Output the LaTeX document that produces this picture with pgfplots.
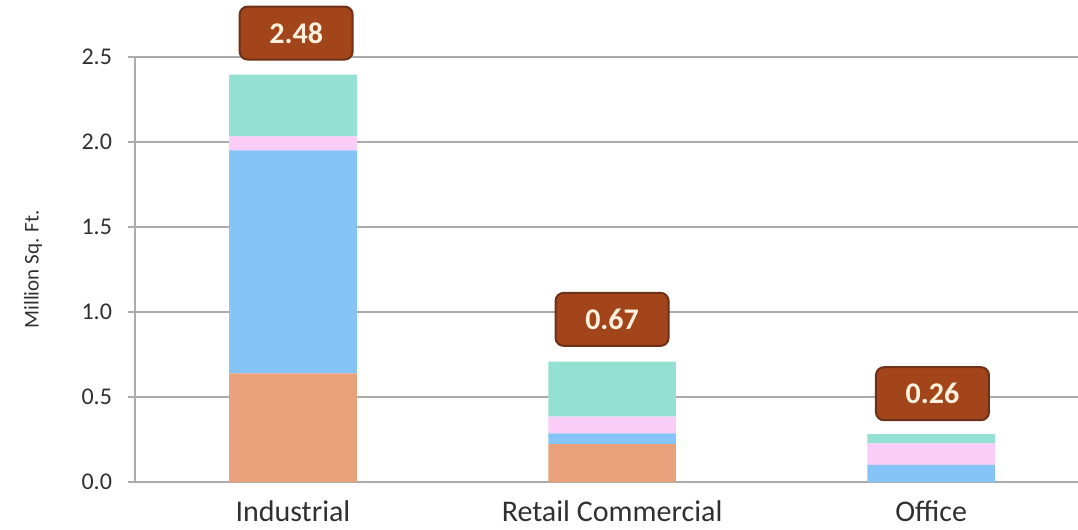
\documentclass[border=0pt]{standalone}
\usepackage{pgfplots}
\pgfplotsset{compat=1.18}
\usepackage{fontspec}
\setmainfont{Carlito}
\definecolor{cOr}{HTML}{E9A17C}
\definecolor{cBl}{HTML}{86C4F8}
\definecolor{cPk}{HTML}{F9CDF7}
\definecolor{cTe}{HTML}{94E0D2}
\definecolor{gridgray}{HTML}{ABABAB}
\definecolor{boxfill}{HTML}{A2451B}
\definecolor{boxdraw}{HTML}{6E3016}
\definecolor{boxtext}{HTML}{FFF1DD}
\definecolor{txt}{HTML}{303030}
\begin{document}
\begin{tikzpicture}
\useasboundingbox (-67.5bp,-24bp) rectangle (471.5bp,241bp);
\begin{axis}[
  scale only axis, width=471.5bp, height=212.65bp,
  xmin=-0.495, xmax=2.46, ymin=0, ymax=2.5,
  ybar stacked, bar width=0.4,
  clip=false,
  axis lines*=left,
  axis line style={draw=gridgray, line width=1bp},
  ymajorgrids, grid style={draw=gridgray, line width=1bp},
  xtick={0,1,2}, xticklabels={Industrial, Retail Commercial, Office},
  x tick style={draw=none},
  ytick={0,0.5,1,1.5,2,2.5},
  y tick style={draw=gridgray, line width=1bp},
  tick align=outside, major tick length=3.5bp,
  yticklabel style={/pgf/number format/fixed, /pgf/number format/fixed zerofill, /pgf/number format/precision=1, /pgf/number format/assume math mode=true},
  yticklabel style={font=\fontsize{12bp}{14bp}\selectfont, text=txt, xshift=-4.5bp},
  xticklabel style={font=\fontsize{15bp}{18bp}\selectfont, text=txt, yshift=-2.5bp},
  ylabel={Million Sq. Ft.},
  every axis y label/.style={at={(axis description cs:-0.108,0.5)}, rotate=90, anchor=center, font=\fontsize{10.5bp}{12bp}\selectfont, text=txt},
]
\addplot[fill=cOr, draw=none] coordinates {(0,0.639) (1,0.222) (2,0)};
\addplot[fill=cBl, draw=none] coordinates {(0,1.310) (1,0.064) (2,0.100)};
\addplot[fill=cPk, draw=none] coordinates {(0,0.082) (1,0.098) (2,0.127)};
\addplot[fill=cTe, draw=none] coordinates {(0,0.363) (1,0.324) (2,0.055)};
\tikzset{valbox/.style={fill=boxfill, draw=boxdraw, line width=1bp, rounded corners=4bp, minimum width=56.5bp, minimum height=26.5bp, text=boxtext, font=\bfseries\fontsize{15bp}{18bp}\selectfont, inner sep=0pt}}
\node[valbox] at (axis cs:0.01,2.639) {2.48};
\node[valbox] at (axis cs:1,0.956) {0.67};
\node[valbox] at (axis cs:2.004,0.519) {0.26};
\end{axis}
\end{tikzpicture}
\end{document}
